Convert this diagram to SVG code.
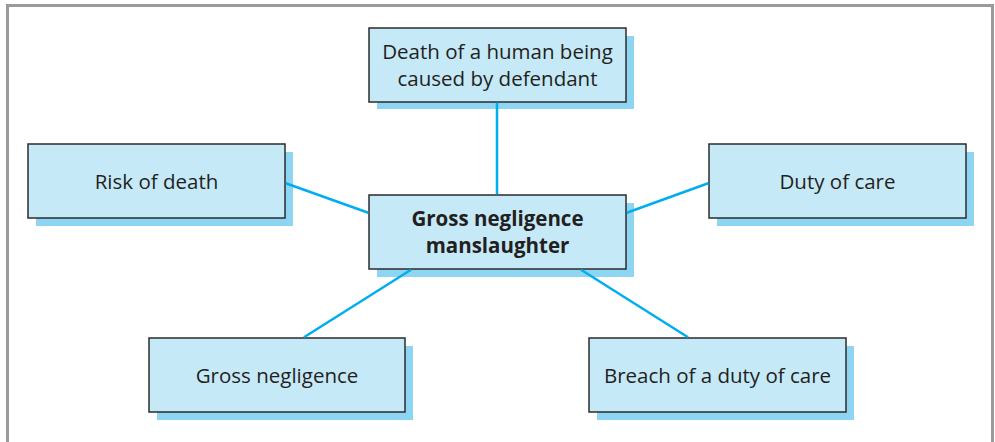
<svg xmlns="http://www.w3.org/2000/svg" width="995" height="442" viewBox="0 0 995 442">
<style>
.shadow{fill:#8dd5f3}
.box{fill:#c6e9f8;stroke:#2b2b2b;stroke-width:1.5}
.t{font-family:"Open Sans","Liberation Sans",sans-serif;font-size:20.5px;fill:#231f20;text-anchor:middle}
.b{font-weight:bold}
.c{stroke:#00aeef;stroke-width:2.5;fill:none}
</style>
<rect width="995" height="442" fill="#ffffff"/>
<path d="M7.5 442 V5.5 H992.5 V442" fill="none" stroke="#9a9a9c" stroke-width="3"/>
<g id="death">
<rect class="shadow" x="377" y="36" width="257" height="73"/>
<rect class="box" x="369" y="28" width="257" height="74"/>
<text class="t" x="497.5" y="59">Death of a human being</text>
<text class="t" x="497.5" y="86">caused by defendant</text>
</g>
<g id="center">
<rect class="shadow" x="377" y="203" width="257" height="74"/>
<rect class="box" x="369" y="195" width="257" height="74"/>
<text class="t b" x="497.5" y="226">Gross negligence</text>
<text class="t b" x="497.5" y="253">manslaughter</text>
</g>
<g id="risk">
<rect class="shadow" x="36" y="152" width="257" height="74"/>
<rect class="box" x="28" y="144" width="257" height="74"/>
<text class="t" x="156.5" y="189">Risk of death</text>
</g>
<g id="duty">
<rect class="shadow" x="717" y="152" width="257" height="74"/>
<rect class="box" x="709" y="144" width="257" height="74"/>
<text class="t" x="837.5" y="189">Duty of care</text>
</g>
<g id="gross">
<rect class="shadow" x="157" y="346" width="256" height="74"/>
<rect class="box" x="149" y="338" width="256" height="74"/>
<text class="t" x="277" y="383">Gross negligence</text>
</g>
<g id="breach">
<rect class="shadow" x="597" y="346" width="257" height="74"/>
<rect class="box" x="589" y="338" width="257" height="74"/>
<text class="t" x="717.5" y="383">Breach of a duty of care</text>
</g>
<g id="connectors">
<line class="c" x1="497" y1="102.75" x2="497" y2="194.25"/>
<line class="c" x1="285.75" y1="183.3" x2="368.25" y2="212.7"/>
<line class="c" x1="708.25" y1="183.3" x2="626.75" y2="212.7"/>
<line class="c" x1="304" y1="337.25" x2="411" y2="269.75"/>
<line class="c" x1="688" y1="337.25" x2="581" y2="269.75"/>
</g>
</svg>
